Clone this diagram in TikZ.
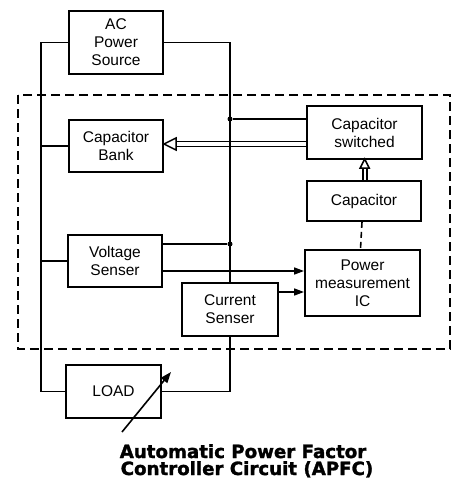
\documentclass[tikz,border=0pt]{standalone}
\usepackage{fontspec}
\setmainfont{Liberation Sans}
\newfontfamily\titlefont{DejaVu Sans}[BoldFeatures={FakeBold=1.6}]
\usetikzlibrary{arrows.meta}
\begin{document}
\begin{tikzpicture}[x=1pt,y=-1pt,
  blk/.style={draw, line width=1.9pt, inner sep=0pt, align=center,
    font=\fontsize{15.5}{18}\selectfont},
  wire/.style={line width=1.6pt},
  sigarrow/.style={wire, -{Triangle[length=10pt,width=7pt]}},
  dotnode/.style={circle, fill, inner sep=0pt, minimum size=5pt},
  hollowhead/.style={draw, line width=1.5pt, fill=white, line join=miter}
]
\useasboundingbox (0,0) rectangle (474,483);

% dashed enclosure
\draw[line width=1.7pt, dash pattern=on 9pt off 5pt] (18,95) rectangle (450,349);

% blocks
\node[blk, minimum width=94pt, minimum height=63pt] (ac) at (116,42.5) {AC\\Power\\Source};
\node[blk, minimum width=94pt, minimum height=52pt] (cb) at (116,146) {Capacitor\\Bank};
\node[blk, minimum width=115pt, minimum height=53pt] (cs) at (364.5,132.5) {Capacitor\\switched};
\node[blk, minimum width=114pt, minimum height=40pt] (cap) at (364,201) {Capacitor};
\node[blk, minimum width=115pt, minimum height=66pt] (pm) at (362.5,283) {Power\\measurement\\IC};
\node[blk, minimum width=94pt, minimum height=52pt] (vs) at (115,261) {Voltage\\Senser};
\node[blk, minimum width=96pt, minimum height=53pt] (cur) at (230,309.5) {Current\\Senser};
\node[blk, minimum width=95pt, minimum height=53pt] (load) at (113.5,391.5) {LOAD};

% bus coordinates
\coordinate (lt) at (41,42.5);
\coordinate (lb) at (41,391.5);
\coordinate (rt) at (230,42.5);
\coordinate (rb) at (230,391.5);
\node[dotnode] (d1) at (230,119) {};
\node[dotnode] (d2) at (230,244) {};

% left bus
\draw[wire] (ac.west) -- (lt) -- (lb) -- (load.west);
\draw[wire] (cb.west) -- (cb.west -| lt);
\draw[wire] (vs.west) -- (vs.west -| lt);
% right bus
\draw[wire] (ac.east) -- (rt) -- (cur.north);
\draw[wire] (cur.south) -- (rb) -- (load.east);
\draw[wire] (d1) -- (d1 -| cs.west);
\draw[wire] (d2) -- (d2 -| vs.east);

% signal arrows to power measurement IC
\coordinate (v2) at ([yshift=-10pt]vs.east);
\draw[sigarrow] (v2) -- (v2 -| pm.west);
\coordinate (c2) at ([yshift=17.5pt]cur.east);
\draw[sigarrow] (c2) -- (c2 -| pm.west);

% dashed link capacitor -- power measurement
\draw[wire, dash pattern=on 6pt off 4pt] ([xshift=-2pt]cap.south) -- ([xshift=-2pt]pm.north);

% double hollow arrow: capacitor switched -> capacitor bank
\coordinate (hb1) at (176,144);
\draw[wire] (176,141.5) -- (176,141.5 -| cs.west);
\draw[wire] (176,146.5) -- (176,146.5 -| cs.west);
\draw[hollowhead] (cb.east |- hb1) -- (176,138) -- (176,150) -- cycle;

% double hollow arrow: capacitor -> capacitor switched
\draw[wire] (362.7,168) -- (362.7,181);
\draw[wire] (366.7,168) -- (366.7,181);
\draw[hollowhead] (364.7,159) -- (360.2,168) -- (369.2,168) -- cycle;

% variable load arrow
\coordinate (va) at (122,432);
\coordinate (vb) at (171,372);
\draw[wire, -{Triangle[length=11pt,width=8pt]}] (va) -- (vb);

% title
\node[anchor=base, font=\titlefont\bfseries\fontsize{18.2}{20}\selectfont, inner sep=0pt] (t1) at (243,458) {Automatic Power Factor};
\node[anchor=base, font=\titlefont\bfseries\fontsize{18.2}{20}\selectfont, inner sep=0pt] (t2) at (247,475) {Controller Circuit (APFC)};
\end{tikzpicture}
\end{document}
